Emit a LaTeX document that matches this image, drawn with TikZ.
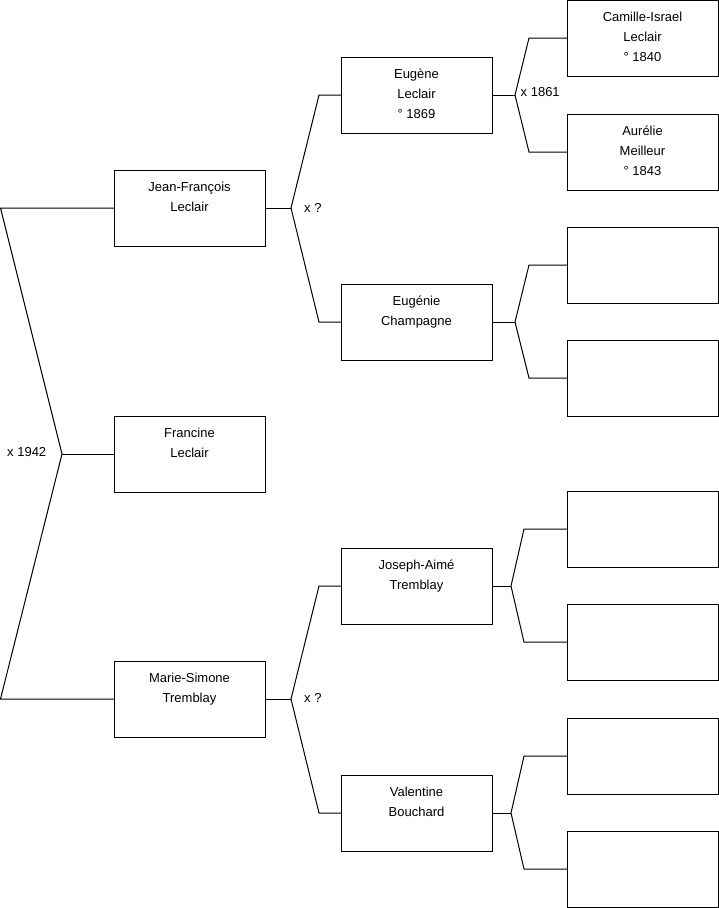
\documentclass[tikz,border=0pt]{standalone}
\usepackage{fontspec}
\setmainfont{Liberation Sans}
\usetikzlibrary{calc}
\newcommand\pbox[4]{%
  \node[person] (#1) at (#2,{#3+38}) {};
  \node[pname] (#1t) at ($(#1.north)+(0,7.5)$) {\rule{0pt}{14pt}#4};}
\newcommand\ebox[3]{\node[person] (#1) at (#2,{#3+38}) {};}
\begin{document}
\begin{tikzpicture}[x=1pt,y=-1pt,
  person/.style={draw=black,line width=1pt,minimum width=151pt,minimum height=76pt,inner sep=0pt,outer sep=0pt},
  pname/.style={anchor=north,align=center,inner sep=0pt,font=\fontsize{13}{20}\selectfont},
  link/.style={draw=black,line width=1pt},
  marr/.style={anchor=base west,inner sep=0pt,font=\fontsize{13}{16}\selectfont}]
\useasboundingbox[fill=white] (0,0) rectangle (719,908);

% generation 1
\pbox{jf}{189.5}{170}{Jean-François\\Leclair}
\pbox{fr}{189.5}{416}{Francine\\Leclair}
\pbox{ms}{189.5}{661}{Marie-Simone\\Tremblay}
% generation 2
\pbox{eu}{416.5}{57}{Eugène\\Leclair\\° 1869}
\pbox{ec}{416.5}{284}{Eugénie\\Champagne}
\pbox{ja}{416.5}{548}{Joseph-Aimé\\Tremblay}
\pbox{vb}{416.5}{775}{Valentine\\Bouchard}
% generation 3
\pbox{ci}{642.5}{0}{Camille-Israel\\Leclair\\° 1840}
\pbox{am}{642.5}{114}{Aurélie\\Meilleur\\° 1843}
\ebox{e3}{642.5}{227}
\ebox{e4}{642.5}{340}
\ebox{e5}{642.5}{491}
\ebox{e6}{642.5}{604}
\ebox{e7}{642.5}{718}
\ebox{e8}{642.5}{831}

% root bracket
\coordinate (r0) at (62,454);
\coordinate (ra) at (0.5,208);
\coordinate (rb) at (0.5,699);
\draw[link] (jf.west) -- (ra) -- (r0) -- (rb) -- (ms.west);
\draw[link] (r0) -- (fr.west);
\node[marr] (l1942) at (7,456) {x 1942};

% Jean-Francois bracket
\coordinate (jj) at (291,208);
\draw[link] (jf.east) -- (jj);
\draw[link] (jj) -- ($(eu.west)+(-22,0)$) -- (eu.west);
\draw[link] (jj) -- ($(ec.west)+(-22,0)$) -- (ec.west);
\node[marr] (ljf) at (304,212) {x ?};

% Marie-Simone bracket
\coordinate (mm) at (291,699);
\draw[link] (ms.east) -- (mm);
\draw[link] (mm) -- ($(ja.west)+(-22,0)$) -- (ja.west);
\draw[link] (mm) -- ($(vb.west)+(-22,0)$) -- (vb.west);
\node[marr] (lms) at (304,702) {x ?};

% Eugene bracket
\coordinate (eb) at (515,95);
\draw[link] (eu.east) -- (eb);
\draw[link] (eb) -- ($(ci.west)+(-38,0)$) -- (ci.west);
\draw[link] (eb) -- ($(am.west)+(-38,0)$) -- (am.west);
\node[marr] (leu) at (520.5,96.5) {x 1861};

% Eugenie bracket
\coordinate (cb) at (515,322);
\draw[link] (ec.east) -- (cb);
\draw[link] (cb) -- ($(e3.west)+(-38,0)$) -- (e3.west);
\draw[link] (cb) -- ($(e4.west)+(-38,0)$) -- (e4.west);

% Joseph-Aime bracket
\coordinate (jb) at (511,586);
\draw[link] (ja.east) -- (jb);
\draw[link] (jb) -- ($(e5.west)+(-43,0)$) -- (e5.west);
\draw[link] (jb) -- ($(e6.west)+(-43,0)$) -- (e6.west);

% Valentine bracket
\coordinate (vbb) at (511,813);
\draw[link] (vb.east) -- (vbb);
\draw[link] (vbb) -- ($(e7.west)+(-43,0)$) -- (e7.west);
\draw[link] (vbb) -- ($(e8.west)+(-43,0)$) -- (e8.west);
\end{tikzpicture}
\end{document}
